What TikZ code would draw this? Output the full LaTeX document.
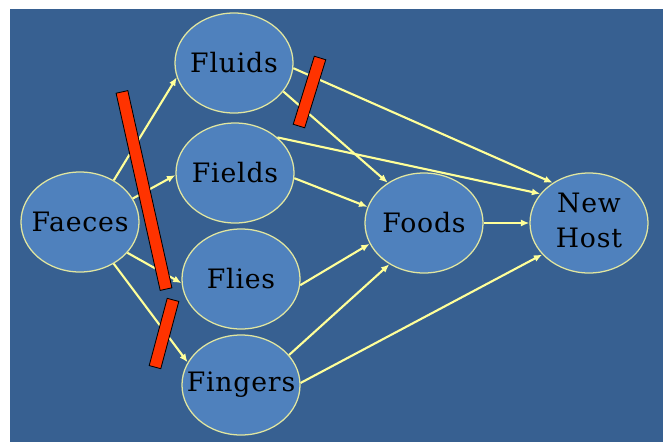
\documentclass[tikz,border=0pt]{standalone}
\usepackage{fontspec}
\setmainfont{DejaVu Serif}[LetterSpace=3]
\usetikzlibrary{arrows.meta, shapes.geometric}

\definecolor{slideblue}{RGB}{55,96,145}
\definecolor{nodeblue}{RGB}{79,129,189}
\definecolor{paleyellow}{RGB}{255,255,153}
\definecolor{rimyellow}{RGB}{225,230,160}
\definecolor{barred}{RGB}{255,51,0}

\begin{document}
\begin{tikzpicture}[
    x=0.025cm, y=-0.025cm,
    every node/.style={ellipse, draw=rimyellow, fill=nodeblue, line width=0.9pt, inner sep=0pt, minimum width=2.95cm, minimum height=2.5cm, font=\fontsize{19}{25}\selectfont},
    arrow/.style={-{Latex[length=6pt, width=5pt]}, paleyellow, line width=1.5pt},
    bar/.style={rectangle, draw=black, fill=barred, line width=0.6pt, minimum height=0.3cm}
]

% Background
\useasboundingbox [fill=white] (0,0) rectangle (663,442);
\fill [slideblue] (10,9) rectangle (663,442);

% Nodes
\node (faeces) at (80,222) {\makebox[0pt]{Faeces}};
\node (fluids) at (234,63) {\makebox[0pt]{Fluids}};
\node (fields) at (235,173) {\makebox[0pt]{Fields}};
\node (flies) at (241,279) {\makebox[0pt]{Flies}};
\node (fingers) at (241,385) {\makebox[0pt]{Fingers}};
\node (foods) at (424,223) {\makebox[0pt]{Foods}};
\node (newhost) at (589,223) {\makebox[0pt]{\begin{tabular}{@{}c@{}}New\\Host\end{tabular}}};

% Arrows
\draw [arrow] (faeces.51) -- (fluids.194);
\draw [arrow] (faeces.24) -- (fields.182);
\draw [arrow] (faeces.-33) -- (flies.184);
\draw [arrow] (faeces.-51) -- (fingers.157);
\draw [arrow] (fluids.-30) -- (foods.132);
\draw [arrow] (fluids.-5) -- (newhost.132);
\draw [arrow] (fields.40) -- (newhost.149);
\draw [arrow] (fields.-5) -- (foods.164);
\draw [arrow] (flies.-6) -- (foods.201);
\draw [arrow] (fingers.32) -- (foods.230);
\draw [arrow] (fingers.2) -- (newhost.214);
\draw [arrow] (foods) -- (newhost);

% Barriers
\node (barrier1) [bar, minimum width=5.05cm, rotate=-77.4] at (144,190.5) {};
\node (barrier2) [bar, minimum width=1.78cm, rotate=72.8] at (309.5,92) {};
\node (barrier3) [bar, minimum width=1.74cm, rotate=75] at (164,333.5) {};

\end{tikzpicture}
\end{document}
